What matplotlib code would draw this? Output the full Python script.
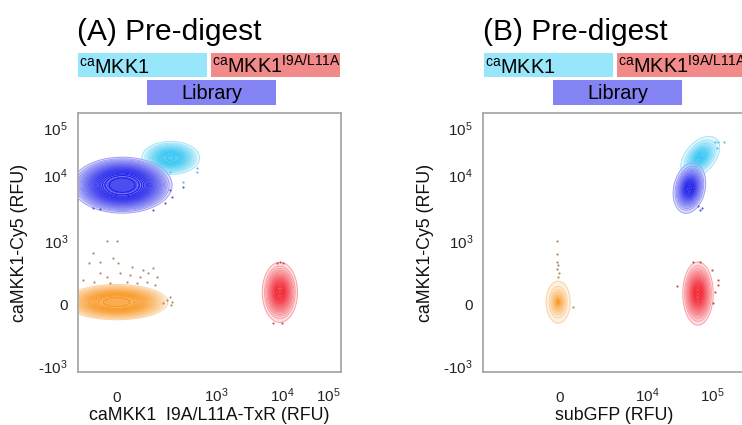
import numpy as np
import matplotlib
matplotlib.use("Agg")
import matplotlib.pyplot as plt
from matplotlib.colors import to_rgb
from matplotlib.patches import Rectangle

plt.rcParams['font.family'] = ['Liberation Sans', 'DejaVu Sans']
plt.rcParams['mathtext.fontset'] = 'custom'
plt.rcParams['mathtext.rm'] = 'Liberation Sans'
plt.rcParams['mathtext.it'] = 'Liberation Sans:italic'
plt.rcParams['mathtext.bf'] = 'Liberation Sans:bold'
plt.rcParams['mathtext.default'] = 'regular'

# ---------------- data ----------------
population_names = ["library", "caMKK1", "uncoated", "caMKK1_I9A_L11A"]
population_colors = ["#1C1CEB", "#2CC3F2", "#F8951E", "#F2202E"]

y_tick_values = [-1e3, 0, 1e3, 1e4, 1e5]
y_tick_labels = ["-$10^{3}$", "0", "$10^{3}$", "$10^{4}$", "$10^{5}$"]

# Panel A: x = caMKK1 I9A/L11A-TxR, y = caMKK1-Cy5 (RFU)
A_x_tick_values = [0, 1e3, 1e4, 1e5]
A_x_tick_labels = ["0", "$10^{3}$", "$10^{4}$", "$10^{5}$"]
A_center_x = [22, 290, 0, 9300]
A_center_y = [7000, 23000, 17, 80]
A_corr = [0.0, 0.0, 0.0, 0.0]
A_outliers = {
    "uncoated": ([-40, 0, -100, -67, -120, -14, 5, 62, 112, 165, -67, -40, 13, 54, 98, 137, 188,
                  -150, -95, -26, 41, 84, 130, 176, 260, 295, 283, 305, 230],
                 [1010, 1010, 600, 415, 400, 490, 400, 340, 293, 320, 255, 210, 255, 231, 210, 255, 210,
                  178, 160, 150, 160, 150, 160, 135, 30, 0, 50, 15, 10]),
    "library": ([-100, -67, 165, 243, 300, 415, 283], [3200, 3100, 2940, 3800, 4650, 6550, 5900]),
    "caMKK1": ([600, 600, 283, 415], [14100, 11500, 11500, 7800]),
    "caMKK1_I9A_L11A": ([8500, 9500, 10500, 7300, 10100], [400, 410, 390, -125, -130]),
}

# Panel B: x = subGFP, y = caMKK1-Cy5 (RFU)
B_x_tick_values = [0, 1e4, 1e5]
B_x_tick_labels = ["0", "$10^{4}$", "$10^{5}$"]
B_center_x = [45000, 66000, -15, 61000]
B_center_y = [6300, 24000, 17, 72]
B_corr = [0.2, 0.45, 0.0, 0.0]
B_outliers = {
    "uncoated": ([-24, -24, -24, -15, -24, -7, -15, 122], [1010, 585, 420, 365, 310, 255, 210, -13]),
    "library": ([70000, 61000, 65000], [3150, 3400, 3000]),
    "caMKK1": ([112000, 124000, 153000, 118000], [50400, 50400, 50400, 37600]),
    "caMKK1_I9A_L11A": ([29000, 100000, 124000, 124000, 112000, 104000, 51000, 66000],
                        [128, 293, 178, 135, 82, 11, 420, 420]),
}

# ---------------- layout / style ----------------
W, H = 742, 425
fig = plt.figure(figsize=(W / 100, H / 100), dpi=100)

AX_W, AX_H = 262.5, 259
AX_TOP = 113
y_tick_fracs = [0.023, 0.259, 0.506, 0.761, 0.942]
A_x_tick_fracs = [0.147, 0.525, 0.777, 0.952]
B_x_tick_fracs = [0.293, 0.625, 0.872]

# contour extents in axis-fraction units, shape exponents, number of levels
A_ext_x = [0.19, 0.11, 0.195, 0.067]
A_ext_y = [0.108, 0.064, 0.068, 0.116]
A_shape = [4.0, 2.8, 4.0, 2.2]
A_nlev = [30, 20, 26, 22]
B_ext_x = [0.062, 0.074, 0.046, 0.058]
B_ext_y = [0.097, 0.08, 0.081, 0.122]
B_shape = [2.2, 2.0, 1.1, 2.2]
B_nlev = [24, 16, 20, 24]
outlier_colors = {"uncoated": "#B08C66", "library": "#5A5AD8",
                  "caMKK1": "#5CC0E6", "caMKK1_I9A_L11A": "#C8504F"}

C = 150.0


def make_scale(tick_vals, tick_fracs):
    u = np.arcsinh(np.asarray(tick_vals, float) / C)
    f = np.asarray(tick_fracs, float)
    s0 = (f[1] - f[0]) / (u[1] - u[0])
    s1 = (f[-1] - f[-2]) / (u[-1] - u[-2])
    ue = np.concatenate([[u[0] - 20], u, [u[-1] + 20]])
    fe = np.concatenate([[f[0] - 20 * s0], f, [f[-1] + 20 * s1]])

    def fwd(v):
        return np.interp(np.arcsinh(np.asarray(v, float) / C), ue, fe)

    def inv(q):
        return C * np.sinh(np.interp(np.asarray(q, float), fe, ue))
    return fwd, inv


def mix(c, t):
    r = np.array(to_rgb(c))
    return tuple(1 - t * (1 - r))


def panel(left_px, xt_vals, xt_fracs, xt_labels, cx, cy, corr, ext_x, ext_y, shape, nlev,
          outliers, order, xlabel):
    ax = fig.add_axes([left_px / W, (H - AX_TOP - AX_H) / H, AX_W / W, AX_H / H])
    fx, ix = make_scale(xt_vals, xt_fracs)
    fy, iy = make_scale(y_tick_values, y_tick_fracs)
    ax.set_xscale('function', functions=(fx, ix))
    ax.set_yscale('function', functions=(fy, iy))
    ax.set_xlim(ix(0.0), ix(1.0))
    ax.set_ylim(iy(0.0), iy(1.0))

    g = np.linspace(-0.1, 1.1, 600)
    FX, FY = np.meshgrid(g, g)
    X, Y = ix(FX), iy(FY)
    for i in order:
        name = population_names[i]
        ccx, ccy = float(fx(cx[i])), float(fy(cy[i]))
        dx = (FX - ccx) / ext_x[i]
        dy = (FY - ccy) / ext_y[i]
        rho = corr[i]
        q = (dx ** 2 + dy ** 2 - 2 * rho * dx * dy) / (1 - rho ** 2)
        D = np.exp(-3.5 * np.sqrt(q) ** shape[i])
        n = nlev[i]
        flev = np.linspace(0.03, 1.001, n + 1)
        fcols = [mix(population_colors[i], t) for t in np.linspace(0.14, 0.78, n)]
        ax.contourf(X, Y, D, levels=flev, colors=fcols, antialiased=True)
        levels = np.linspace(0.03, 0.985, n)
        cols = [mix(population_colors[i], t) for t in np.linspace(0.42, 1.0, n)]
        ax.contour(X, Y, D, levels=levels, colors=cols, linewidths=0.7)
        ox, oy = outliers[name]
        ax.scatter(ox, oy, s=2.5, color=outlier_colors[name], lw=0, zorder=3)

    ax.set_xticks(xt_vals)
    ax.set_xticklabels(xt_labels)
    ax.set_yticks(y_tick_values)
    ax.set_yticklabels(y_tick_labels)
    ax.xaxis.set_minor_locator(matplotlib.ticker.NullLocator())
    ax.yaxis.set_minor_locator(matplotlib.ticker.NullLocator())
    ax.tick_params(axis='both', length=0, labelsize=11, colors='#222222')
    ax.tick_params(axis='x', pad=21.6)
    ax.tick_params(axis='y', pad=7.2)
    plt.setp(ax.get_xticklabels(), va='baseline')
    for s in ax.spines.values():
        s.set_color('#A8A8A8')
        s.set_linewidth(1.3)
    ax.set_xlabel(xlabel, fontsize=12.8, color='#111111')
    ax.xaxis.set_label_coords(0.5, -43 / AX_H)
    ax.xaxis.label.set_va('center')
    ax.set_ylabel("caMKK1-Cy5 (RFU)", fontsize=12.8, color='#111111')
    ax.yaxis.set_label_coords(-58 / AX_W, 0.5)
    ax.yaxis.label.set_va('center')
    ax.yaxis.label.set_ha('center')
    return ax


def header(left_px, letter):
    def box(x0, y0, x1, y1, color):
        fig.add_artist(Rectangle((x0 / W, 1 - y1 / H), (x1 - x0) / W, (y1 - y0) / H,
                                 transform=fig.transFigure, facecolor=color, edgecolor='none'))
    o = left_px - 78
    fig.text((77 + o) / W, 1 - 40 / H, f"({letter}) Pre-digest", fontsize=21.5, va='baseline', ha='left')
    box(78 + o, 53, 207 + o, 77, "#98E6FA")
    box(211 + o, 53, 340 + o, 77, "#F38A8A")
    box(147 + o, 80, 276 + o, 105, "#8383F3")
    fig.text((79 + o) / W, 1 - 74 / H, "$^{ca}$MKK1", fontsize=14.3, va='baseline', ha='left')
    fig.text((212 + o) / W, 1 - 74 / H, "$^{ca}$MKK1$^{I9A/L11A}$", fontsize=14.3, va='baseline', ha='left')
    fig.text((211.5 + o) / W, 1 - 99 / H, "Library", fontsize=14.3, va='baseline', ha='center')


panel(78, A_x_tick_values, A_x_tick_fracs, A_x_tick_labels, A_center_x, A_center_y, A_corr,
      A_ext_x, A_ext_y, A_shape, A_nlev, A_outliers, [2, 3, 1, 0], "caMKK1  I9A/L11A-TxR (RFU)")
panel(483, B_x_tick_values, B_x_tick_fracs, B_x_tick_labels, B_center_x, B_center_y, B_corr,
      B_ext_x, B_ext_y, B_shape, B_nlev, B_outliers, [2, 3, 1, 0], "subGFP (RFU)")
header(78, "A")
header(484, "B")

fig.savefig("out.png", dpi=100, facecolor='white')
